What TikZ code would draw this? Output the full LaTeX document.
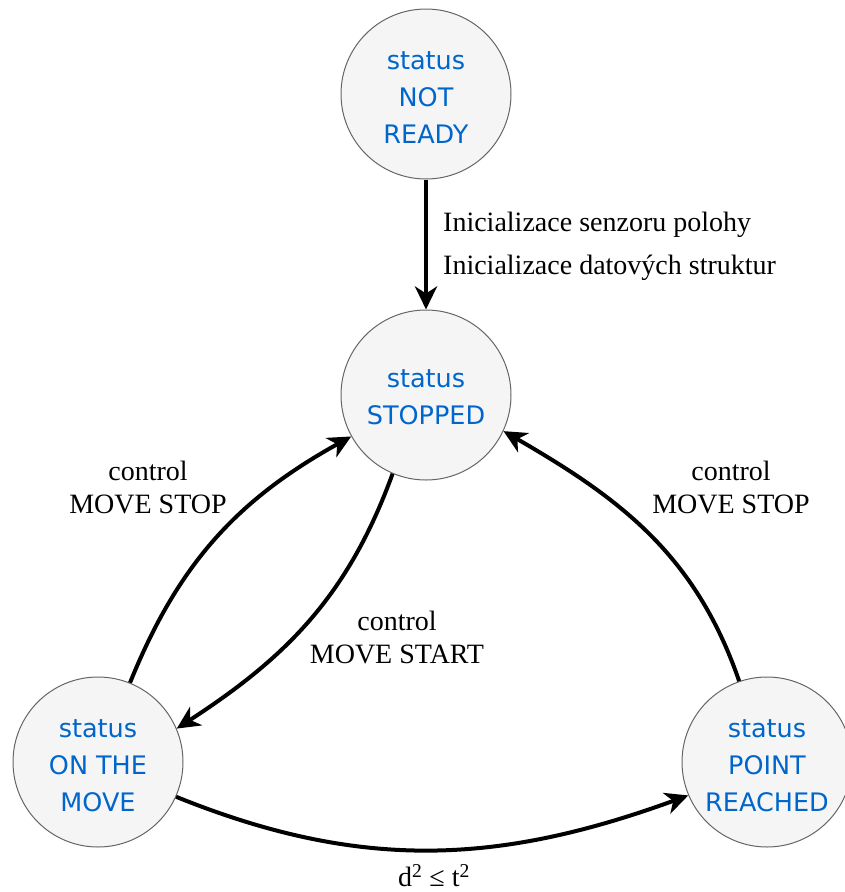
\documentclass[tikz,border=0pt]{standalone}
\usepackage{fontspec}
\setmainfont{Liberation Serif}
\newfontfamily\statefont{DejaVu Sans}
\usetikzlibrary{arrows.meta}
\definecolor{statefill}{HTML}{F5F5F5}
\definecolor{stateline}{HTML}{666666}
\definecolor{statetext}{HTML}{0066CC}
\begin{document}
\begin{tikzpicture}[x=1pt,y=-1pt,
  state/.style={circle, minimum size=170pt, inner sep=0pt, fill=statefill, draw=stateline, line width=1pt},
  statelabel/.style={align=center, text=statetext, inner sep=0pt, font=\statefont\fontsize{25.5}{37}\selectfont},
  trans/.style={line width=4pt, -{Stealth[length=23pt,width=22pt,inset=7pt]}},
  lbl/.style={align=center, font=\fontsize{28}{33}\selectfont, inner sep=0pt}]
\useasboundingbox (0,0) rectangle (844,892);
\node[state] (nr) at (426,94) {};
\node[state] (st) at (426,395) {};
\node[state] (om) at (98,762) {};
\node[state] (pr) at (767,762) {};
\node[statelabel] (nrt) at (426,98) {status\\NOT\\READY};
\node[statelabel] (stt) at (426,397) {status\\STOPPED};
\node[statelabel] (omt) at (98,766) {status\\ON THE\\MOVE};
\node[statelabel] (prt) at (767,766) {status\\POINT\\REACHED};

\draw[trans] (nr.south) -- (st.north);
\draw[trans] (om.68) to[out=68,in=209] (st.209);
\draw[trans] (st.247) to[out=250,in=33] (om.23);
\draw[trans] (pr.109) to[out=109,in=-30] (st.-25);
\draw[trans] (om.-24) to[out=-22,in=200] (pr.203);

\node[lbl, align=left, anchor=west, font=\fontsize{28}{43}\selectfont] (l1) at (443,246) {Inicializace senzoru polohy\\Inicializace datových struktur};
\node[lbl] (l2) at (148,487) {control\\MOVE STOP};
\node[lbl] (l3) at (397,637) {control\\MOVE START};
\node[lbl] (l4) at (731,487) {control\\MOVE STOP};
\node[lbl] (l5) at (434,876) {d\textsuperscript{2} ≤ t\textsuperscript{2}};
\end{tikzpicture}
\end{document}
